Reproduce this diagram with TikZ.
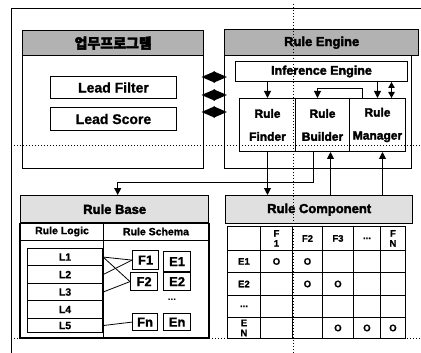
\documentclass[tikz,border=0pt]{standalone}
\usepackage{fontspec}
\setmainfont{Liberation Sans}
\newfontfamily\heavy[FakeBold=2.5]{Liberation Sans}
\newfontfamily\semi[FakeBold=1]{Liberation Sans}
\newfontfamily\kr[FakeBold=2.5]{Noto Sans CJK KR}
\usetikzlibrary{arrows.meta}
\tikzset{
  panel/.style={draw, line width=1.4pt, inner sep=0pt, anchor=north west},
  hdrdark/.style={panel, fill=black!30, font=\heavy\bfseries\fontsize{13}{13}\selectfont},
  hdrlight/.style={panel, fill=black!12, font=\heavy\bfseries\fontsize{13}{13}\selectfont},
  box/.style={draw, line width=1pt, inner sep=0pt, anchor=north west, font=\semi\bfseries\fontsize{14}{14}\selectfont},
  engbox/.style={box, align=center, font=\heavy\bfseries\fontsize{12}{23}\selectfont},
  sub/.style={draw, line width=1pt, inner sep=0pt, anchor=north west, font=\semi\bfseries\fontsize{10.5}{10.5}\selectfont},
  lbox/.style={draw, line width=1.1pt, inner sep=0pt, anchor=north west, minimum width=75pt, font=\semi\bfseries\fontsize{10.5}{10.5}\selectfont},
  fbox/.style={draw, line width=1.2pt, inner sep=0pt, anchor=north west, font=\semi\bfseries\fontsize{13}{13}\selectfont},
  cell/.style={draw, line width=0.9pt, inner sep=0pt, anchor=north west},
  tt/.style={inner sep=0pt, align=center, font=\semi\bfseries\fontsize{9.5}{10}\selectfont},
  arr/.style={-{Triangle[length=7pt,width=7pt]}, line width=1pt},
  arrboth/.style={{Triangle[length=6pt,width=6.5pt]}-{Triangle[length=6pt,width=6.5pt]}, line width=1pt},
  dbl/.style={{Triangle[length=13.5pt,width=11pt]}-{Triangle[length=13.5pt,width=11pt]}, line width=2pt},
  link/.style={line width=0.8pt},
  dots/.style={line width=1pt, dash pattern=on 1pt off 2pt},
  frame/.style={line width=1pt}
}
\begin{document}
\begin{tikzpicture}[x=1pt,y=-1pt]
\useasboundingbox (0,0) rectangle (421,353);
% outer frame
\draw[frame] (421,9) -- (11,9) -- (11,353);

% ---------- left panel ----------
\node[panel, minimum width=181pt, minimum height=113pt] (lp) at (22,55) {};
\node[hdrdark, minimum width=181pt, minimum height=25pt] (lph) at (22,30) {\kr\fontsize{14}{14}\selectfont 업무프로그램};
\node[box, minimum width=126pt, minimum height=22pt] (lf) at (50,76) {Lead Filter};
\node[box, minimum width=126pt, minimum height=23pt] (ls) at (50,107) {Lead Score};

% ---------- right panel ----------
\node[panel, minimum width=187pt, minimum height=113pt] (re) at (224,55) {};
\node[hdrdark, minimum width=194pt, minimum height=26pt] (reh) at (224,29) {Rule Engine};
\node[box, minimum width=172pt, minimum height=20pt, font=\heavy\bfseries\fontsize{12.5}{12.5}\selectfont] (ie) at (235,61) {Inference Engine};
\node[engbox, minimum width=56pt, minimum height=53pt] (rf) at (239,98) {Rule\\Finder};
\node[engbox, minimum width=54pt, minimum height=53pt] (rb) at (295,98) {Rule\\Builder};
\node[engbox, minimum width=56pt, minimum height=53pt] (rm) at (349,98) {Rule\\Manager};

% double arrows between panels
\coordinate (ya) at (0,77);
\coordinate (yb) at (0,95);
\coordinate (yc) at (0,112);
\draw[dbl, shorten <=-3pt, shorten >=-3pt] (lp.east |- ya) -- (re.west |- ya);
\draw[dbl, shorten <=-3pt, shorten >=-3pt] (lp.east |- yb) -- (re.west |- yb);
\draw[dbl, shorten <=-3pt, shorten >=-3pt] (lp.east |- yc) -- (re.west |- yc);

% arrows inside rule engine
\draw[arr] (rf.north |- ie.south) -- (rf.north);
\draw[arr] (rm.north |- ie.south) -- (rm.north);
\draw[arrboth] ([xshift=14pt]rm.north |- ie.south) -- ([xshift=14pt]rm.north);
\draw[arr] ([xshift=-15pt]rm.north) -- ++(0,-9) -| ([xshift=-5pt]rb.north);

% ---------- Rule Base ----------
\node[hdrlight, minimum width=188pt, minimum height=27pt] (rbh) at (20,195) {Rule Base};
\node[sub, minimum width=83pt, minimum height=18pt] (rlc) at (20,222) {Rule Logic};
\node[sub, minimum width=105pt, minimum height=18pt] (rsc) at (103,222) {Rule Schema};
\node[panel, minimum width=83pt, minimum height=97pt, line width=1pt] (rlb) at (20,240) {};
\node[panel, minimum width=105pt, minimum height=97pt, line width=1pt] (rsb) at (103,240) {};
\draw[line width=1.4pt] (rbh.south west) rectangle (rsb.south east);

\node[lbox, minimum height=17pt] (L1) at (27,248) {L1};
\node[lbox, minimum height=18pt] (L2) at (27,265) {L2};
\node[lbox, minimum height=17pt] (L3) at (27,283) {L3};
\node[lbox, minimum height=18pt] (L4) at (27,300) {L4};
\node[lbox, minimum height=14pt] (L5) at (27,318) {L5};

\node[fbox, minimum width=26pt, minimum height=19pt] (F1) at (132,250) {F1};
\node[fbox, minimum width=27pt, minimum height=20pt] (E1) at (163,251) {E1};
\node[fbox, minimum width=27pt, minimum height=18pt] (F2) at (130,272) {F2};
\node[fbox, minimum width=27pt, minimum height=18pt] (E2) at (163,272) {E2};
\node[inner sep=0pt, font=\bfseries\fontsize{10}{10}\selectfont] (fdots) at (172,300) {...};
\node[fbox, minimum width=25pt, minimum height=17pt] (Fn) at (132,313) {Fn};
\node[fbox, minimum width=27pt, minimum height=17pt] (En) at (163,313) {En};

\draw[link] (L1.east) -- (F1.west);
\draw[link] (L2.east) -- (F1.west);
\draw[link] (L1.east) -- (F2.west);
\draw[link] (L3.east) -- (F2.west);
\draw[link] (L5.east) -- (Fn.west);

% ---------- Rule Component ----------
\node[hdrlight, minimum width=187pt, minimum height=28pt] (rch) at (225,195) {Rule Component};
\foreach \c/\xa/\xb in {0/227/260,1/260/292,2/292/322,3/322/353,4/353/380,5/380/405}{
  \foreach \r/\ya/\yb in {0/226/250,1/250/272,2/272/295,3/295/317,4/317/338}{
    \pgfmathsetmacro\cw{\xb-\xa}
    \pgfmathsetmacro\ch{\yb-\ya}
    \node[cell, minimum width=\cw pt, minimum height=\ch pt] (c\r\c) at (\xa,\ya) {};
  }
}
\node[panel, minimum width=178pt, minimum height=112pt] (tbl) at (227,226) {};
% header row
\node[tt] (h1) at (c01) {F\\1};
\node[tt] (h2) at (c02) {F2};
\node[tt] (h3) at (c03) {F3};
\node[tt] (h4) at (c04) {...};
\node[tt] (h5) at (c05) {F\\N};
% row labels
\node[tt] (r1) at (c10) {E1};
\node[tt] (r2) at (c20) {E2};
\node[tt] (r3) at (c30) {...};
\node[tt] (r4) at (c40) {E\\N};
% marks
\node[tt] (m11) at (c11) {O};
\node[tt] (m12) at (c12) {O};
\node[tt] (m22) at (c22) {O};
\node[tt] (m23) at (c23) {O};
\node[tt] (m43) at (c43) {O};
\node[tt] (m44) at (c44) {O};
\node[tt] (m45) at (c45) {O};

% connectors between parts
\draw[arr] (rf.south) -- (rf.south |- rch.north);
\draw[arr] ([xshift=-9pt]rb.south) -- ++(0,30) -| ([xshift=3pt]rbh.north);
\draw[arr] ([xshift=8pt]rb.south |- rch.north) -- ([xshift=8pt]rb.south);
\draw[arr] ([xshift=5pt]rm.south |- rch.north) -- ([xshift=5pt]rm.south);

% dotted guide lines
\draw[dots] (293,4) -- (293,353);
\draw[dots] (11,146) -- (421,146);
\draw[dots] (14,338) -- (421,338);
\end{tikzpicture}
\end{document}
